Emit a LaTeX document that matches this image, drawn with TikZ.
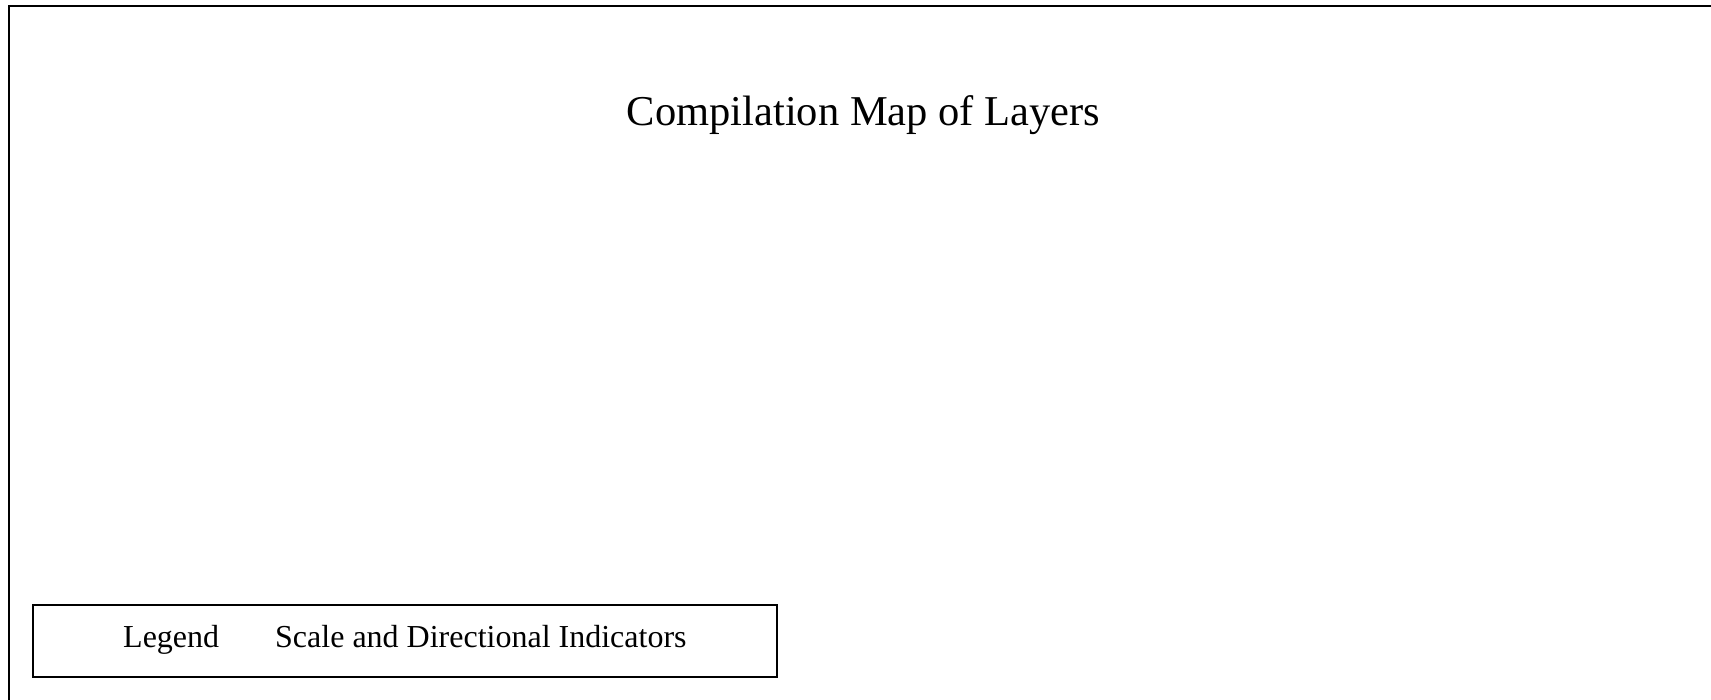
\documentclass[tikz,border=0pt]{standalone}
\usepackage{fontspec}
\setmainfont{Liberation Serif}
\begin{document}
\begin{tikzpicture}[x=1pt,y=-1pt,
  frameline/.style={draw=black,line width=2pt},
  legendbox/.style={draw=black,line width=1.4pt,inner sep=0pt,
    minimum width=744pt,minimum height=72pt},
  titletext/.style={inner sep=0pt,anchor=base,font=\fontsize{42.5}{50}\selectfont},
  legendtext/.style={inner sep=0pt,anchor=base west,font=\fontsize{32}{38}\selectfont}]
  \useasboundingbox (0,0) rectangle (1711,699);
  \clip (0,0) rectangle (1711,699);
  % outer map frame, running past the right and bottom edges
  \draw[frameline] (9,5.5) rectangle (1740,720);
  % title
  \node[titletext] (title) at (863.5,125) {Compilation Map of Layers};
  % legend strip
  \node[legendbox] (legend) at (405,641) {};
  \node[legendtext] (legendlabel) at (123,647) {Legend};
  \node[legendtext] (scalelabel) at (275,647) {Scale and Directional Indicators};
\end{tikzpicture}
\end{document}
